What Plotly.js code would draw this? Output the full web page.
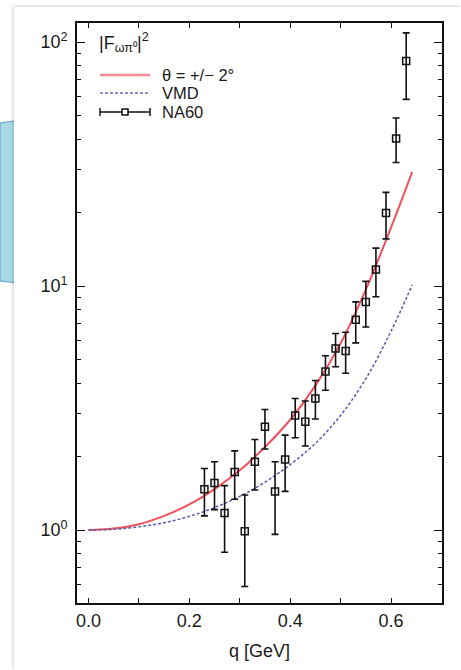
<!DOCTYPE html>
<html>
<head>
<meta charset="utf-8">
<script src="https://cdn.plot.ly/plotly-3.0.1.min.js"></script>
<style>
  html, body { margin:0; padding:0; background:#ffffff; width:461px; height:670px; overflow:hidden; }
  #bubble { position:absolute; left:0; top:0; width:60px; height:320px; }
  #panel { position:absolute; left:14px; top:7px; width:447px; height:663px; background:#fff;
           box-shadow:-1px -1px 3px rgba(0,0,0,0.18); }
  #chart { width:447px; height:663px; }
</style>
</head>
<body>
<svg id="bubble" viewBox="0 0 60 320"><polygon points="0,123 60,114 60,288 0,281" fill="#a7d9e6" stroke="#5f9fd0" stroke-width="1"/></svg>
<div id="panel"><div id="chart"></div></div>
<script>
// NA60 data
const q      = [0.23,0.25,0.27,0.29,0.31,0.33,0.35,0.37,0.39,0.41,0.43,0.45,0.47,0.49,0.51,0.53,0.55,0.57,0.59,0.61,0.63];
const F2     = [1.47,1.56,1.175,1.73,0.988,1.905,2.65,1.44,1.945,2.95,2.78,3.46,4.46,5.55,5.42,7.27,8.61,11.7,19.9,40.2,83.7];
const errUp  = [0.317,0.345,0.345,0.38,0.404,0.445,0.47,0.465,0.505,0.51,0.60,0.64,0.72,0.84,1.05,1.34,1.84,2.6,4.3,8.6,25.3];
const errDn  = [0.327,0.347,0.364,0.393,0.401,0.445,0.50,0.48,0.505,0.56,0.57,0.61,0.72,0.88,1.03,1.42,1.82,2.66,4.3,8.1,25.5];
// theory curves
const qCurve = [0,0.05,0.1,0.15,0.2,0.25,0.3,0.35,0.4,0.45,0.5,0.55,0.6,0.642];
const theta  = [1.0,1.0139,1.0568,1.1429,1.2735,1.4723,1.7579,2.1878,2.8314,3.9084,5.821,9.6605,17.378,29.38];
const vmd    = [1.0,1.0069,1.0304,1.0715,1.1376,1.2359,1.374,1.5704,1.8535,2.2646,2.9512,4.1687,6.5313,10.12];
// ticks
const xTickVals = [0,0.2,0.4,0.6];
const xTickText = ['0.0','0.2','0.4','0.6'];
const xMinorVals = [0.1,0.3,0.5];
const yTickVals = [1,10,100];
const yTickText = ['10<sup>0</sup>','10<sup>1</sup>','10<sup>2</sup>'];
const yMinorVals = [0.6,0.7,0.8,0.9,2,3,4,5,6,7,8,9,20,30,40,50,60,70,80,90];
// legend labels
const legendTitle = '|F<sub>ωπ⁰</sub>|<sup>2</sup>';
const seriesNames = ['θ = +/− 2°','VMD','NA60'];

const FONT = 'Liberation Sans, Arial, Helvetica, sans-serif';
const txt = '#1a1a1a';
const RED = '#f2505c', BLUE = '#5b5bab', BLK = '#111';

const traces = [
  {x:qCurve, y:theta, type:'scatter', mode:'lines', name:seriesNames[0],
   line:{color:RED, width:2, shape:'spline', smoothing:1}},
  {x:qCurve, y:vmd, type:'scatter', mode:'lines', name:seriesNames[1],
   line:{color:BLUE, width:1.5, dash:'3px,2px', shape:'spline', smoothing:1}},
  {x:q, y:F2, type:'scatter', mode:'markers', name:seriesNames[2],
   marker:{symbol:'square-open', size:7, color:BLK, line:{width:1.5, color:BLK}},
   error_y:{type:'data', symmetric:false, array:errUp, arrayminus:errDn, color:BLK, thickness:1.6, width:3.5}}
];

// manual legend (layout decoration, paper coordinates)
const W = 365, H = 580;                 // plot area size in px
const px = v => v / W, py = v => v / H; // px -> paper
const lx0 = px(23), lx1 = px(73), tx = px(83);
const rows = [1 - py(52), 1 - py(70), 1 - py(89)];
const titleY = 1 - py(19);
const shapes = [
  {type:'line', xref:'paper', yref:'paper', x0:lx0, x1:lx1, y0:rows[0], y1:rows[0], line:{color:'#f38a94', width:2.5}},
  {type:'line', xref:'paper', yref:'paper', x0:lx0, x1:lx1, y0:rows[1], y1:rows[1], line:{color:'#6b6bc0', width:1.3, dash:'3px,2px'}},
  {type:'line', xref:'paper', yref:'paper', x0:lx0, x1:lx1, y0:rows[2], y1:rows[2], line:{color:BLK, width:1.5}},
  {type:'line', xref:'paper', yref:'paper', x0:lx0, x1:lx0, y0:rows[2]-py(4), y1:rows[2]+py(4), line:{color:BLK, width:1.5}},
  {type:'line', xref:'paper', yref:'paper', x0:lx1, x1:lx1, y0:rows[2]-py(4), y1:rows[2]+py(4), line:{color:BLK, width:1.5}},
  {type:'rect', xref:'paper', yref:'paper', x0:(lx0+lx1)/2-px(3), x1:(lx0+lx1)/2+px(3), y0:rows[2]-py(3), y1:rows[2]+py(3),
   line:{color:BLK, width:1.5}, fillcolor:'#fff'}
];
const annotations = [
  {xref:'paper', yref:'paper', x:px(20), y:titleY, xanchor:'left', yanchor:'middle', showarrow:false,
   text:legendTitle, font:{family:FONT, size:18, color:txt}},
].concat(seriesNames.map((n,i) => ({xref:'paper', yref:'paper', x:tx, y:rows[i], xanchor:'left', yanchor:'middle',
   showarrow:false, text:n, font:{family:FONT, size:16.5, color:txt}})));

const axisCommon = {showline:true, linecolor:BLK, linewidth:1.8, mirror:'ticks', ticks:'inside',
  tickcolor:BLK, tickwidth:1.3, showgrid:false, zeroline:false,
  tickfont:{family:FONT, size:18, color:txt}};
const layout = {
  width:447, height:663,
  margin:{l:63, r:19, t:16, b:67},
  paper_bgcolor:'rgba(0,0,0,0)', plot_bgcolor:'#fff',
  showlegend:false,
  shapes:shapes, annotations:annotations,
  xaxis:Object.assign({}, axisCommon, {range:[-0.0226,0.701], tickmode:'array', tickvals:xTickVals, ticktext:xTickText,
    ticklen:5, minor:{tickmode:'array', tickvals:xMinorVals, ticks:'inside', ticklen:5, tickcolor:BLK, tickwidth:1.3},
    title:{text:'q [GeV]', font:{family:FONT, size:18, color:txt}, standoff:15}}),
  yaxis:Object.assign({}, axisCommon, {type:'log', range:[-0.299,2.078], tickmode:'array', tickvals:yTickVals, ticktext:yTickText,
    ticklen:8, ticklabelstandoff:4,
    minor:{tickmode:'array', tickvals:yMinorVals, ticks:'inside', ticklen:4, tickcolor:BLK, tickwidth:1.3}})
};
Plotly.newPlot('chart', traces, layout, {displayModeBar:false});
</script>
</body>
</html>
